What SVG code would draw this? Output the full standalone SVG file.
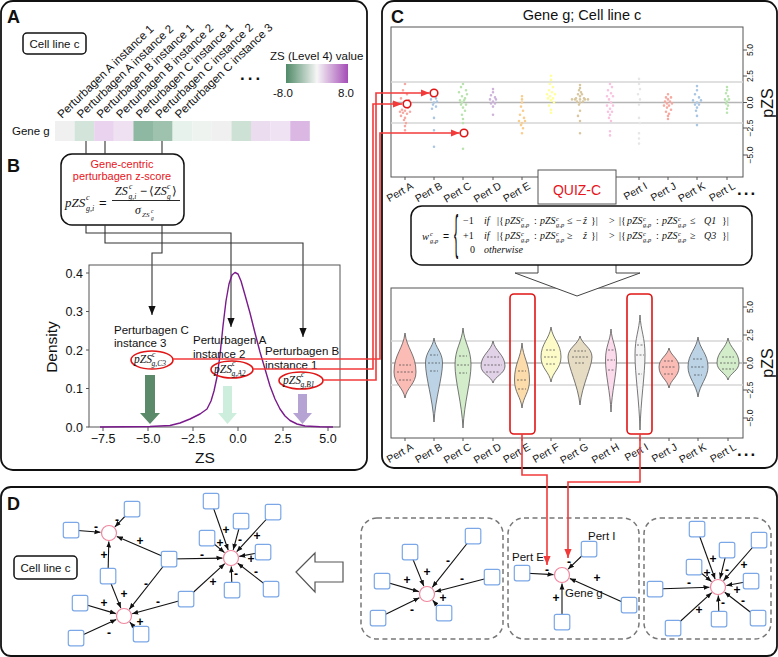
<svg xmlns="http://www.w3.org/2000/svg" width="778" height="657" viewBox="0 0 778 657">
<defs>
<style>
text{font-family:"Liberation Sans",Arial,sans-serif;fill:#111}
.m{font-family:"Liberation Serif","DejaVu Serif",serif;font-style:italic}
.pnl{fill:none;stroke:#111;stroke-width:1.8}
.lbl{font-size:18px;font-weight:bold}
.cl{fill:#fff;stroke:#111;stroke-width:1.5}
.con{fill:none;stroke:#333;stroke-width:1.1}
.red{fill:none;stroke:#f23a3a;stroke-width:1.6}
.ax{fill:none;stroke:#555;stroke-width:1}
.tk{font-size:12.5px}
.tr{font-size:8.5px;text-anchor:middle}
.hz{stroke:#d6d6d6;stroke-width:1.3}
.h0{stroke:#b5b5b5;stroke-width:1.3}
.sq{fill:#fff;stroke:#7ba7e6;stroke-width:1.2}
.nd{fill:#fff;stroke:#f0869e;stroke-width:1.2}
.e{fill:none;stroke:#111;stroke-width:1.1;marker-end:url(#ah)}
.pm{font-size:12px;font-weight:bold;text-anchor:middle;fill:#000}
.dash{fill:none;stroke:#777;stroke-width:1.5;stroke-dasharray:5 3.5}
.vio{stroke:#555;stroke-width:0.8}
.q{fill:none;stroke:#444;stroke-width:0.7;stroke-dasharray:2 1.5}
.dot{fill:none;stroke-width:2.6;stroke-linecap:round}
.pl{font-size:10.5px;text-anchor:end}
.hl{font-size:11.5px}
.s{font-size:6.5px}
.rc{fill:#fff;stroke:#e01515;stroke-width:1.6}
</style>
<linearGradient id="cb" x1="0" x2="1" y1="0" y2="0">
<stop offset="0" stop-color="#4f8a68"/><stop offset="0.5" stop-color="#f6f6f6"/><stop offset="1" stop-color="#a54db7"/>
</linearGradient>
<marker id="ah" viewBox="0 0 10 10" refX="10" refY="5" markerWidth="6" markerHeight="6" orient="auto" markerUnits="userSpaceOnUse"><path d="M0 1L10 5L0 9Z" fill="#111"/></marker>
<marker id="ahb" viewBox="0 0 10 10" refX="10" refY="5" markerWidth="9" markerHeight="9" orient="auto" markerUnits="userSpaceOnUse"><path d="M0 1L10 5L0 9Z" fill="#111"/></marker>
<marker id="ahr" viewBox="0 0 10 10" refX="10" refY="5" markerWidth="9" markerHeight="9" orient="auto" markerUnits="userSpaceOnUse"><path d="M0 1L10 5L0 9Z" fill="#f23a3a"/></marker>
</defs>
<rect width="778" height="657" fill="#fff"/>

<!-- Panels -->
<g id="panels">
<rect class="pnl" x="1" y="1" width="366" height="469" rx="12"/>
<rect class="pnl" x="382" y="1" width="395" height="467" rx="12"/>
<rect class="pnl" x="1" y="487" width="776" height="169" rx="10"/>
<text class="lbl" x="7" y="23">A</text>
<text class="lbl" x="7" y="172">B</text>
<text class="lbl" x="391" y="23">C</text>
<text class="lbl" x="7" y="510">D</text>
</g>

<!-- Panel A -->
<g id="cellA">
<rect class="cl" x="23" y="33" width="63" height="21" rx="4"/>
<text class="hl" x="54.5" y="48" text-anchor="middle">Cell line c</text>
</g>
<g id="heatmap">
<text class="hl" x="12" y="135">Gene g</text>
<rect x="55" y="121" width="19.6" height="20" fill="#f0f0f0"/>
<rect x="74.6" y="121" width="19.6" height="20" fill="#d3e5da"/>
<rect x="94.2" y="121" width="19.6" height="20" fill="#e9d3ee"/>
<rect x="113.8" y="121" width="19.6" height="20" fill="#efe1f2"/>
<rect x="133.4" y="121" width="19.6" height="20" fill="#8fb8a2"/>
<rect x="153" y="121" width="19.6" height="20" fill="#9ec2ae"/>
<rect x="172.6" y="121" width="19.6" height="20" fill="#e8f2ec"/>
<rect x="192.2" y="121" width="19.6" height="20" fill="#eef3f0"/>
<rect x="211.8" y="121" width="19.6" height="20" fill="#f0f0f0"/>
<rect x="231.4" y="121" width="19.6" height="20" fill="#cde2d5"/>
<rect x="251" y="121" width="19.6" height="20" fill="#ecdcf0"/>
<rect x="270.6" y="121" width="19.6" height="20" fill="#efe3f3"/>
<rect x="290.2" y="121" width="19.6" height="20" fill="#dbb8e4"/>
<g class="hl">
<text transform="translate(62,119) rotate(-44)">Perturbagen A instance 1</text>
<text transform="translate(81.6,119) rotate(-44)">Perturbagen A instance 2</text>
<text transform="translate(101.2,119) rotate(-44)">Perturbagen B instance 1</text>
<text transform="translate(120.8,119) rotate(-44)">Perturbagen B instance 2</text>
<text transform="translate(140.4,119) rotate(-44)">Perturbagen C instance 1</text>
<text transform="translate(160,119) rotate(-44)">Perturbagen C instance 2</text>
<text transform="translate(179.6,119) rotate(-44)">Perturbagen C instance 3</text>
</g>
<text x="240" y="80" font-size="17" font-weight="bold" letter-spacing="3">...</text>
</g>
<g id="colorbar">
<text class="hl" x="270" y="60">ZS (Level 4) value</text>
<rect x="286" y="64" width="62" height="19" fill="url(#cb)"/>
<text class="hl" x="273" y="97">-8.0</text>
<text class="hl" x="338" y="97">8.0</text>
</g>

<!-- Panel B -->
<g id="formulaB">
<rect class="cl" x="61" y="154" width="123" height="71" rx="11" stroke-width="1.2"/>
<text x="122" y="168" font-size="11" text-anchor="middle" style="fill:#e8141b">Gene-centric</text>
<text x="122" y="180" font-size="11" text-anchor="middle" style="fill:#e8141b">perturbagen z-score</text>
<text class="m" x="65" y="207" font-size="13">pZS</text>
<text class="m" x="86" y="200" font-size="8">c</text>
<text class="m" x="86" y="211" font-size="8">g,i</text>
<text x="99" y="207" font-size="13" font-family="Liberation Serif, serif">=</text>
<text class="m" x="115" y="195" font-size="12">ZS</text>
<text class="m" x="129" y="189" font-size="7.5">c</text>
<text class="m" x="128.5" y="198.5" font-size="7.5">g,i</text>
<text x="140" y="195" font-size="12" font-family="Liberation Serif, serif">−</text>
<text x="149" y="195" font-size="12" font-family="DejaVu Serif, serif">⟨</text>
<text class="m" x="154" y="195" font-size="12">ZS</text>
<text class="m" x="167" y="189" font-size="7.5">c</text>
<text class="m" x="167" y="198.5" font-size="7.5">g</text>
<text x="172" y="195" font-size="12" font-family="DejaVu Serif, serif">⟩</text>
<line x1="112" y1="200.5" x2="180" y2="200.5" stroke="#111" stroke-width="0.9"/>
<text class="m" x="135" y="214" font-size="12">σ</text>
<text class="m" x="142" y="217" font-size="7">ZS</text>
<text class="m" x="151" y="213" font-size="5.5">c</text>
<text class="m" x="151" y="220" font-size="5.5">g</text>
</g>
<g id="connectorsB">
<path class="con" d="M86 141V154M105 141V154M162 141V154"/>
<path class="con" d="M86 225V233H231V327" marker-end="url(#ahb)"/>
<path class="con" d="M105 225V243H303V337" marker-end="url(#ahb)"/>
<path class="con" d="M162 225V253H152V315" marker-end="url(#ahb)"/>
</g>
<g id="densityplot">
<rect class="ax" x="89" y="265" width="251" height="162"/>
<path class="ax" d="M86 427h3M86 388.5h3M86 350h3M86 311.5h3M86 273h3M103 427v4M148 427v4M193 427v4M238 427v4M283 427v4M328 427v4"/>
<g class="tk" text-anchor="end">
<text x="83" y="431.5">0.0</text><text x="83" y="393">0.1</text><text x="83" y="354.5">0.2</text><text x="83" y="316">0.3</text><text x="83" y="277.5">0.4</text>
</g>
<g class="tk" text-anchor="middle">
<text x="103" y="443">−7.5</text><text x="148" y="443">−5.0</text><text x="193" y="443">−2.5</text><text x="238" y="443">0.0</text><text x="283" y="443">2.5</text><text x="328" y="443">5.0</text>
</g>
<text x="205" y="463" font-size="15.5" text-anchor="middle">ZS</text>
<text transform="translate(57,347) rotate(-90)" font-size="15.5" text-anchor="middle">Density</text>
<path fill="none" stroke="#7a1a8c" stroke-width="1.4" stroke-linejoin="round" d="M100 427L150 426.5L170 425.5L180 423L190 419L200 414L207 409L211 401L214 391L217 377L220 355L223 326L226 301L229 284L232 275L235 272.5L238 274L241 281L245 295L250 313L255 333L260 352L265 369L270 386L275 399L280 409L285 416L290 420.5L297 424L305 426L320 426.8L333 427"/>
<path d="M145 375H155V413H160L150 424L140 413H145Z" fill="#5b8a6b"/>
<path d="M223 386H232V413H237L227.5 424L218 413H223Z" fill="#cdeedd"/>
<path d="M298 394H307V413H312L302.5 424L293 413H298Z" fill="#b5a3d4"/>
<g class="hl">
<text x="114" y="334">Perturbagen C</text><text x="114" y="347">instance 3</text>
<text x="193" y="344">Perturbagen A</text><text x="193" y="358">instance 2</text>
<text x="265" y="355">Perturbagen B</text><text x="265" y="369">instance 1</text>
</g>
<ellipse cx="152" cy="360" rx="21" ry="9" fill="none" stroke="#e01515" stroke-width="1.6"/>
<ellipse cx="232" cy="369.5" rx="21" ry="8.5" fill="none" stroke="#e01515" stroke-width="1.6"/>
<ellipse cx="301" cy="380.5" rx="22" ry="8.5" fill="none" stroke="#e01515" stroke-width="1.6"/>
<text class="m" x="134" y="363" font-size="11.5">pZS</text><text class="m" x="152" y="356.5" font-size="7.5">c</text><text class="m" x="151.5" y="366" font-size="7.5">g,C3</text>
<text class="m" x="214" y="372.5" font-size="11.5">pZS</text><text class="m" x="232" y="366" font-size="7.5">c</text><text class="m" x="231.5" y="375.5" font-size="7.5">g,A2</text>
<text class="m" x="283" y="383.5" font-size="11.5">pZS</text><text class="m" x="301" y="377" font-size="7.5">c</text><text class="m" x="300.5" y="386.5" font-size="7.5">g,B1</text>
</g>

<!-- Panel C -->
<text x="582" y="20" font-size="14.5" text-anchor="middle">Gene g; Cell line c</text>
<g id="stripplot">
<rect class="ax" x="391" y="27" width="352" height="150"/>
<line class="hz" x1="391" y1="82" x2="743" y2="82"/>
<line class="hz" x1="391" y1="123" x2="743" y2="123"/>
<line class="h0" x1="391" y1="102.5" x2="743" y2="102.5"/>
<path class="ax" d="M743 50h4M743 76h4M743 102.5h4M743 128h4M743 155h4M405 177v3M434 177v3M463 177v3M493 177v3M522 177v3M551 177v3M580 177v3M610 177v3M639 177v3M668 177v3M697 177v3M727 177v3"/>
<text class="tr" transform="translate(753,50) rotate(-90)">5.0</text>
<text class="tr" transform="translate(753,76) rotate(-90)">2.5</text>
<text class="tr" transform="translate(753,102.5) rotate(-90)">0.0</text>
<text class="tr" transform="translate(753,128) rotate(-90)">−2.5</text>
<text class="tr" transform="translate(753,155) rotate(-90)">−5.0</text>
<text transform="translate(773,103) rotate(-90)" font-size="16" text-anchor="middle">pZS</text>
<path class="dot" stroke="#f7a8a0" d="M405 84h0M403 90.2h0M407 94.3h0M401 98.4h0M409 100.4h0M404 104.6h0M406 105.6h0M408 107.6h0M402 109.7h0M405 110.7h0M400 111.8h0M410 111.8h0M403 112.8h0M407 113.8h0M401 115.9h0M405 117.9h0M404 120h0M406 123.1h0M405 126.1h0M405 130.3h0"/>
<path class="dot" stroke="#a9c6e3" d="M434 90.2h0M432 96.3h0M436 98.4h0M431 99.4h0M437 101.5h0M434 102.5h0M433 104.6h0M436 106.6h0M432 108.7h0M434 117.9h0M434 130.3h0M434 146.7h0"/>
<path class="dot" stroke="#b9e3ae" d="M463 84h0M461 87.1h0M466 90.2h0M459 92.2h0M467 94.3h0M462 96.3h0M465 98.4h0M460 100.4h0M464 100.4h0M462 102.5h0M466 104.6h0M461 104.6h0M463 107.6h0M465 110.7h0M462 114.8h0M463 119h0M463 123.1h0M463 148.8h0"/>
<path class="dot" stroke="#cdb3da" d="M493 89.1h0M493 92.2h0M491 95.3h0M495 97.4h0M490 99.4h0M496 99.4h0M493 101.5h0M491 103.5h0M495 103.5h0M493 106.6h0M493 114.8h0"/>
<path class="dot" stroke="#fbcd8c" d="M522 96.3h0M522 99.4h0M522 102.5h0M521 106.6h0M523 110.7h0M520 114.8h0M524 117.9h0M519 121h0M525 121h0M522 123.1h0M521 125.1h0M523 128.2h0M522 133.3h0"/>
<path class="dot" stroke="#ffff99" d="M551 75.8h0M551 79.9h0M550 84h0M553 87.1h0M549 90.2h0M552 92.2h0M547 94.3h0M555 94.3h0M550 96.3h0M553 98.4h0M548 98.4h0M551 100.4h0M554 102.5h0M549 105.6h0M551 109.7h0M551 112.8h0"/>
<path class="dot" stroke="#d9c7a0" d="M580 85h0M580 88.1h0M579 90.2h0M581 92.2h0M578 94.3h0M582 94.3h0M580 96.3h0M576 98.4h0M584 98.4h0M572 99.4h0M575 99.4h0M580 99.4h0M585 99.4h0M588 99.4h0M577 101.5h0M583 101.5h0M580 102.5h0M579 104.6h0M580 110.7h0M578 115.9h0M580 121h0M580 133.3h0"/>
<path class="dot" stroke="#f9c2df" d="M610 84h0M612 87.1h0M608 90.2h0M611 93.2h0M607 96.3h0M613 96.3h0M609 99.4h0M611 102.5h0M607 105.6h0M613 105.6h0M610 108.7h0M608 111.8h0M612 111.8h0M610 114.8h0M609 117.9h0M611 121h0M610 131.3h0M610 135.4h0"/>
<path class="dot" stroke="#e6e6e6" d="M639 78.9h0M639 84h0M640 89.1h0M638 94.3h0M640 99.4h0M639 104.6h0M639 117.9h0M640 123.1h0M639 133.3h0M639 138.5h0M639 143.6h0"/>
<path class="dot" stroke="#f7a8a0" d="M668 94.3h0M666 97.4h0M671 97.4h0M668 99.4h0M665 101.5h0M670 101.5h0M667 103.5h0M672 103.5h0M664 105.6h0M669 105.6h0M667 107.6h0M671 109.7h0M666 111.8h0M669 113.8h0M668 115.9h0M668 119h0"/>
<path class="dot" stroke="#a9c6e3" d="M697 86.1h0M697 90.2h0M695 94.3h0M699 97.4h0M693 100.4h0M701 100.4h0M697 102.5h0M695 104.6h0M699 104.6h0M697 107.6h0M696 110.7h0M697 115.9h0M697 125.1h0"/>
<path class="dot" stroke="#b9e3ae" d="M727 87.1h0M727 90.2h0M726 93.2h0M728 96.3h0M725 99.4h0M729 99.4h0M727 101.5h0M726 103.5h0M728 105.6h0M727 108.7h0M727 112.8h0"/>
<g class="pl">
<text transform="translate(414,188) rotate(-30)">Pert A</text>
<text transform="translate(443,188) rotate(-30)">Pert B</text>
<text transform="translate(472,188) rotate(-30)">Pert C</text>
<text transform="translate(502,188) rotate(-30)">Pert D</text>
<text transform="translate(531,188) rotate(-30)">Pert E</text>
<text transform="translate(648,188) rotate(-30)">Pert I</text>
<text transform="translate(677,188) rotate(-30)">Pert J</text>
<text transform="translate(706,188) rotate(-30)">Pert K</text>
<text transform="translate(736,188) rotate(-30)">Pert L</text>
</g>
<text x="737" y="195" font-size="17" font-weight="bold" letter-spacing="2">...</text>
</g>
<g id="quizc">
<rect x="538" y="170" width="78" height="34" fill="#fff" stroke="#555" stroke-width="1"/>
<text x="577" y="195" font-size="14" text-anchor="middle" style="fill:#e8141b">QUIZ-C</text>
</g>

<g id="violinplot">
<rect class="ax" x="391" y="288" width="352" height="150"/>
<line class="hz" x1="391" y1="341" x2="743" y2="341"/>
<line class="hz" x1="391" y1="385" x2="743" y2="385"/>
<line class="h0" x1="391" y1="363" x2="743" y2="363"/>
<path class="ax" d="M743 307h4M743 335h4M743 363h4M743 390h4M743 418h4M405 438v3M434 438v3M463 438v3M493 438v3M522 438v3M551 438v3M580 438v3M611 438v3M640 438v3M669 438v3M698 438v3M728 438v3"/>
<text class="tr" transform="translate(753,307) rotate(-90)">5.0</text>
<text class="tr" transform="translate(753,335) rotate(-90)">2.5</text>
<text class="tr" transform="translate(753,363) rotate(-90)">0.0</text>
<text class="tr" transform="translate(753,390) rotate(-90)">−2.5</text>
<text class="tr" transform="translate(753,418) rotate(-90)">−5.0</text>
<text transform="translate(773,363) rotate(-90)" font-size="16" text-anchor="middle">pZS</text>
<path class="vio" fill="#fbbcb6" d="M405 333C406.7 348.6 416 354.5 416 372C416 383.7 406.7 387.6 405 398C403.3 387.6 394 383.7 394 372C394 354.5 403.3 348.6 405 333Z"/>
<path class="vio" fill="#bcd3e6" d="M434 338C435.3 348 442.5 351.8 442.5 363C442.5 377.8 435.3 398.4 434 422C432.7 398.4 425.5 377.8 425.5 363C425.5 351.8 432.7 348 434 338Z"/>
<path class="vio" fill="#d3ecca" d="M463 328C464.2 342.8 471 348.4 471 365C471 380.8 464.2 402.8 463 428C461.8 402.8 455 380.8 455 365C455 348.4 461.8 342.8 463 328Z"/>
<path class="vio" fill="#e2d2e7" d="M493 341C494.8 351 505 354.8 505 366C505 373.7 494.8 376.2 493 383C491.2 376.2 481 373.7 481 366C481 354.8 491.2 351 493 341Z"/>
<path class="vio" fill="#fddcab" d="M522 343C523.1 357.8 529.5 363.4 529.5 380C529.5 392.6 523.1 396.8 522 408C520.9 396.8 514.5 392.6 514.5 380C514.5 363.4 520.9 357.8 522 343Z"/>
<path class="vio" fill="#fdfcc8" d="M551 327C552.5 339 561 343.5 561 357C561 368.3 552.5 372 551 382C549.5 372 541 368.3 541 357C541 343.5 549.5 339 551 327Z"/>
<path class="vio" fill="#e6dbc3" d="M580 336C581.8 344.4 592 347.6 592 357C592 366.6 581.8 385.8 580 405C578.2 385.8 568 366.6 568 357C568 347.6 578.2 344.4 580 336Z"/>
<path class="vio" fill="#fbdbeb" d="M611 329C611.8 341.4 616.5 346 616.5 360C616.5 375.6 611.8 391.2 611 412C610.2 391.2 605.5 375.6 605.5 360C605.5 346 610.2 341.4 611 329Z"/>
<path class="vio" fill="#f4f4f4" d="M640 315C640.8 331 645 337 645 355C645 373.8 640.8 400 640 430C639.2 400 635 373.8 635 355C635 337 639.2 331 640 315Z"/>
<path class="vio" fill="#fbbcb6" d="M669 348C670.5 355.6 679 358.5 679 367C679 376.5 670.5 379.6 669 388C667.5 379.6 659 376.5 659 367C659 358.5 667.5 355.6 669 348Z"/>
<path class="vio" fill="#bcd3e6" d="M698 337C699.5 349 708 353.5 708 367C708 377.5 699.5 385 698 397C696.5 385 688 377.5 688 367C688 353.5 696.5 349 698 337Z"/>
<path class="vio" fill="#d3ecca" d="M728 338C729.7 348 739 351.8 739 363C739 370.7 729.7 373.2 728 380C726.3 373.2 717 370.7 717 363C717 351.8 726.3 348 728 338Z"/>
<path class="q" d="M399 365h12M397 372h16M399 380h12M430 355h8M428 363h12M430 371h8M459 356h8M457 365h12M459 373h8M487 357h12M484 365h18M486 372h14M518 371h8M517 380h10M518 389h8M546 350h10M544 357h14M546 364h10M574 351h12M572 357h16M575 363h10M608 350h6M607 360h8M608 370h6M637 345h6M636 355h8M638 374h4M664 361h10M662 367h14M664 374h10M693 359h10M691 367h14M694 375h8M722 357h12M720 363h16M722 369h12"/>
<g class="pl">
<text transform="translate(414,449) rotate(-30)">Pert A</text>
<text transform="translate(443,449) rotate(-30)">Pert B</text>
<text transform="translate(472,449) rotate(-30)">Pert C</text>
<text transform="translate(502,449) rotate(-30)">Pert D</text>
<text transform="translate(531,449) rotate(-30)">Pert E</text>
<text transform="translate(560,449) rotate(-30)">Pert F</text>
<text transform="translate(589,449) rotate(-30)">Pert G</text>
<text transform="translate(620,449) rotate(-30)">Pert H</text>
<text transform="translate(649,449) rotate(-30)">Pert I</text>
<text transform="translate(678,449) rotate(-30)">Pert J</text>
<text transform="translate(707,449) rotate(-30)">Pert K</text>
<text transform="translate(737,449) rotate(-30)">Pert L</text>
</g>
<text x="737" y="456" font-size="17" font-weight="bold" letter-spacing="2">...</text>
<rect x="510" y="294" width="25" height="140" rx="4" fill="none" stroke="#e01515" stroke-width="1.6"/>
<rect x="627" y="294" width="25" height="140" rx="4" fill="none" stroke="#e01515" stroke-width="1.6"/>
</g>

<g id="quizformula">
<path d="M538 265V273H515L577 296L640 273H616V265" fill="#fff" stroke="#444" stroke-width="1"/>
<rect class="cl" x="411" y="206" width="341" height="59" rx="11" stroke-width="1.2"/>
<text class="m" x="422" y="240" font-size="10.5">w</text>
<text class="m s" x="430" y="235.5">c</text>
<text class="m s" x="430" y="243">g,p</text>
<text x="443" y="240" font-size="10.5" font-family="Liberation Serif, serif">=</text>
<text transform="translate(454,249) scale(0.9,3.4)" font-size="14" font-family="Liberation Serif, serif">{</text>
<text class="m" y="224" font-size="10"><tspan x="463" font-style="normal">−1</tspan><tspan x="484">if</tspan><tspan x="497" font-style="normal">|{</tspan><tspan x="505">pZS</tspan><tspan x="521" dy="-3.5" class="s">c</tspan><tspan x="521" dy="6.5" class="s">g,p</tspan><tspan x="534" dy="-3" font-style="normal">:</tspan><tspan x="540">pZS</tspan><tspan x="556" dy="-3.5" class="s">c</tspan><tspan x="556" dy="6.5" class="s">g,p</tspan><tspan x="567" dy="-3" font-style="normal">≤</tspan><tspan x="576" font-style="normal">−</tspan><tspan x="583">ẑ</tspan><tspan x="591" font-style="normal">}|</tspan><tspan x="609" font-style="normal">&gt;</tspan><tspan x="619" font-style="normal">|{</tspan><tspan x="627">pZS</tspan><tspan x="643" dy="-3.5" class="s">c</tspan><tspan x="643" dy="6.5" class="s">g,p</tspan><tspan x="656" dy="-3" font-style="normal">:</tspan><tspan x="662">pZS</tspan><tspan x="678" dy="-3.5" class="s">c</tspan><tspan x="678" dy="6.5" class="s">g,p</tspan><tspan x="690" dy="-3" font-style="normal">≤</tspan><tspan x="704">Q1</tspan><tspan x="722" font-style="normal">}|</tspan></text>
<text class="m" y="239" font-size="10"><tspan x="463" font-style="normal">+1</tspan><tspan x="484">if</tspan><tspan x="497" font-style="normal">|{</tspan><tspan x="505">pZS</tspan><tspan x="521" dy="-3.5" class="s">c</tspan><tspan x="521" dy="6.5" class="s">g,p</tspan><tspan x="534" dy="-3" font-style="normal">:</tspan><tspan x="540">pZS</tspan><tspan x="556" dy="-3.5" class="s">c</tspan><tspan x="556" dy="6.5" class="s">g,p</tspan><tspan x="567" dy="-3" font-style="normal">≥</tspan><tspan x="583">ẑ</tspan><tspan x="591" font-style="normal">}|</tspan><tspan x="609" font-style="normal">&gt;</tspan><tspan x="619" font-style="normal">|{</tspan><tspan x="627">pZS</tspan><tspan x="643" dy="-3.5" class="s">c</tspan><tspan x="643" dy="6.5" class="s">g,p</tspan><tspan x="656" dy="-3" font-style="normal">:</tspan><tspan x="662">pZS</tspan><tspan x="678" dy="-3.5" class="s">c</tspan><tspan x="678" dy="6.5" class="s">g,p</tspan><tspan x="690" dy="-3" font-style="normal">≥</tspan><tspan x="704">Q3</tspan><tspan x="722" font-style="normal">}|</tspan></text>
<text class="m" y="253" font-size="10"><tspan x="470" font-style="normal">0</tspan><tspan x="484">otherwise</tspan></text>
</g>

<!-- Panel D -->
<g id="cellD">
<rect class="cl" x="14" y="556" width="63" height="23" rx="4"/>
<text class="hl" x="45.5" y="571.5" text-anchor="middle">Cell line c</text>
</g>
<g id="bigarrow">
<path d="M296 572L315 553V562H343V582H315V592Z" fill="#fff" stroke="#555" stroke-width="1.2"/>
</g>
<g id="boxes">
<rect class="dash" x="361" y="518" width="142" height="121" rx="16"/>
<rect class="dash" x="508" y="518" width="131" height="121" rx="16"/>
<rect class="dash" x="644" y="518" width="127" height="121" rx="16"/>
</g>
<g id="edges">
<path class="e" d="M132 509L114.9 526.9"/>
<path class="e" d="M71 530L100.5 532.3"/>
<path class="e" d="M169 559L116.8 536.4"/>
<path class="e" d="M169 559L222.5 558.1"/>
<path class="e" d="M169 559L129.3 609.3"/>
<path class="e" d="M108 576L108.8 541.5"/>
<path class="e" d="M108 576L120.8 608.1"/>
<path class="e" d="M80 603L115.8 613.6"/>
<path class="e" d="M76 638L116.3 619.5"/>
<path class="e" d="M141 634L129.8 622.2"/>
<path class="e" d="M186 599L132.2 613.8"/>
<path class="e" d="M186 599L224.7 563.7"/>
<path class="e" d="M211 501L228.2 550"/>
<path class="e" d="M241 521L233.2 549.8"/>
<path class="e" d="M273 512L236.7 551.7"/>
<path class="e" d="M207 538L224.5 552.6"/>
<path class="e" d="M263 552L239.3 556.4"/>
<path class="e" d="M232 590L231.3 566.5"/>
<path class="e" d="M271 589L237.7 563.2"/>
<path class="e" d="M410 552L423.8 586.1"/>
<path class="e" d="M473 536L432.3 587.3"/>
<path class="e" d="M382 581L418.8 591.6"/>
<path class="e" d="M492 577L435.2 591.8"/>
<path class="e" d="M378 618L419.4 597.7"/>
<path class="e" d="M444 613L432.7 600.3"/>
<path class="e" d="M522 573L553.5 574.6"/>
<path class="e" d="M589 549L568.1 569.1"/>
<path class="e" d="M629 605L569.8 578.5"/>
<path class="e" d="M562 622L562 583.5"/>
<path class="e" d="M697 529L715.1 579"/>
<path class="e" d="M727 550L720 578.7"/>
<path class="e" d="M759 540L723.6 580.6"/>
<path class="e" d="M694 567L711.5 581.6"/>
<path class="e" d="M751 581L726.4 585.5"/>
<path class="e" d="M655 589L709.5 587.3"/>
<path class="e" d="M758 618L724.7 592.2"/>
<path class="e" d="M719 619L718.3 595.5"/>
<path class="e" d="M673 628L711.7 592.7"/>
</g>
<g id="genes">
<circle class="nd" cx="109" cy="533" r="7.5"/>
<circle class="nd" cx="231" cy="558" r="7.5"/>
<circle class="nd" cx="124" cy="616" r="7.5"/>
<circle class="nd" cx="427" cy="594" r="7.5"/>
<circle class="nd" cx="562" cy="575" r="7.5"/>
<circle class="nd" cx="718" cy="587" r="7.5"/>
</g>
<g id="perts">
<rect class="sq" x="124.3" y="501.3" width="15.5" height="15.5" rx="2"/>
<rect class="sq" x="63.3" y="522.3" width="15.5" height="15.5" rx="2"/>
<rect class="sq" x="161.3" y="551.3" width="15.5" height="15.5" rx="2"/>
<rect class="sq" x="100.3" y="568.3" width="15.5" height="15.5" rx="2"/>
<rect class="sq" x="72.3" y="595.3" width="15.5" height="15.5" rx="2"/>
<rect class="sq" x="68.3" y="630.3" width="15.5" height="15.5" rx="2"/>
<rect class="sq" x="133.3" y="626.3" width="15.5" height="15.5" rx="2"/>
<rect class="sq" x="178.3" y="591.3" width="15.5" height="15.5" rx="2"/>
<rect class="sq" x="203.3" y="493.3" width="15.5" height="15.5" rx="2"/>
<rect class="sq" x="233.3" y="513.3" width="15.5" height="15.5" rx="2"/>
<rect class="sq" x="265.3" y="504.3" width="15.5" height="15.5" rx="2"/>
<rect class="sq" x="199.3" y="530.3" width="15.5" height="15.5" rx="2"/>
<rect class="sq" x="255.3" y="544.3" width="15.5" height="15.5" rx="2"/>
<rect class="sq" x="224.3" y="582.3" width="15.5" height="15.5" rx="2"/>
<rect class="sq" x="263.3" y="581.3" width="15.5" height="15.5" rx="2"/>
<rect class="sq" x="402.3" y="544.3" width="15.5" height="15.5" rx="2"/>
<rect class="sq" x="465.3" y="528.3" width="15.5" height="15.5" rx="2"/>
<rect class="sq" x="374.3" y="573.3" width="15.5" height="15.5" rx="2"/>
<rect class="sq" x="484.3" y="569.3" width="15.5" height="15.5" rx="2"/>
<rect class="sq" x="370.3" y="610.3" width="15.5" height="15.5" rx="2"/>
<rect class="sq" x="436.3" y="605.3" width="15.5" height="15.5" rx="2"/>
<rect class="sq" x="514.3" y="565.3" width="15.5" height="15.5" rx="2"/>
<rect class="sq" x="581.3" y="541.3" width="15.5" height="15.5" rx="2"/>
<rect class="sq" x="621.3" y="597.3" width="15.5" height="15.5" rx="2"/>
<rect class="sq" x="554.3" y="614.3" width="15.5" height="15.5" rx="2"/>
<rect class="sq" x="689.3" y="521.3" width="15.5" height="15.5" rx="2"/>
<rect class="sq" x="719.3" y="542.3" width="15.5" height="15.5" rx="2"/>
<rect class="sq" x="751.3" y="532.3" width="15.5" height="15.5" rx="2"/>
<rect class="sq" x="686.3" y="559.3" width="15.5" height="15.5" rx="2"/>
<rect class="sq" x="743.3" y="573.3" width="15.5" height="15.5" rx="2"/>
<rect class="sq" x="647.3" y="581.3" width="15.5" height="15.5" rx="2"/>
<rect class="sq" x="750.3" y="610.3" width="15.5" height="15.5" rx="2"/>
<rect class="sq" x="711.3" y="611.3" width="15.5" height="15.5" rx="2"/>
<rect class="sq" x="665.3" y="620.3" width="15.5" height="15.5" rx="2"/>
</g>
<g id="signs">
<text class="pm" x="96" y="531">-</text><text class="pm" x="117" y="524">-</text><text class="pm" x="140" y="545">+</text><text class="pm" x="104" y="559">+</text>
<text class="pm" x="202" y="559">-</text><text class="pm" x="146" y="588">-</text><text class="pm" x="124" y="598">+</text><text class="pm" x="104" y="607">+</text>
<text class="pm" x="158" y="606">-</text><text class="pm" x="109" y="637">-</text><text class="pm" x="140" y="626">+</text><text class="pm" x="213" y="586">+</text>
<text class="pm" x="226" y="534">+</text><text class="pm" x="240" y="544">-</text><text class="pm" x="257" y="540">+</text><text class="pm" x="220" y="547">+</text>
<text class="pm" x="251" y="563">+</text><text class="pm" x="236" y="578">-</text><text class="pm" x="256" y="576">-</text>
<text class="pm" x="427" y="576">+</text><text class="pm" x="448" y="565">-</text><text class="pm" x="407" y="584">+</text><text class="pm" x="462" y="583">-</text><text class="pm" x="412" y="614">-</text><text class="pm" x="443" y="602">+</text>
<text class="pm" x="547" y="574">-</text><text class="pm" x="569" y="566">-</text><text class="pm" x="597" y="582">+</text><text class="pm" x="556" y="602">+</text>
<text class="pm" x="713" y="563">+</text><text class="pm" x="727" y="574">-</text><text class="pm" x="744" y="569">+</text><text class="pm" x="707" y="577">+</text><text class="pm" x="737" y="594">+</text>
<text class="pm" x="689" y="587">-</text><text class="pm" x="743" y="605">-</text><text class="pm" x="723" y="607">-</text><text class="pm" x="699" y="614">+</text>
</g>
<g id="box2labels" class="hl">
<text x="512" y="561">Pert E</text>
<text x="588" y="540">Pert I</text>
<text x="565" y="597">Gene g</text>
</g>

<!-- Red connectors -->
<g id="redconnectors">
<path class="red" d="M253 369H373V104H402" marker-end="url(#ahr)"/>
<path class="red" d="M323 380H376V93H429.5" marker-end="url(#ahr)"/>
<path class="red" d="M173 359H380V133H459.5" marker-end="url(#ahr)"/>
<circle class="rc" cx="407" cy="104" r="3.8"/>
<circle class="rc" cx="434" cy="93" r="3.8"/>
<circle class="rc" cx="464" cy="133" r="3.8"/>
<path class="red" d="M522 434V475H547V565" marker-end="url(#ahr)"/>
<path class="red" d="M640 434V482H568V558" marker-end="url(#ahr)"/>
</g>
</svg>
